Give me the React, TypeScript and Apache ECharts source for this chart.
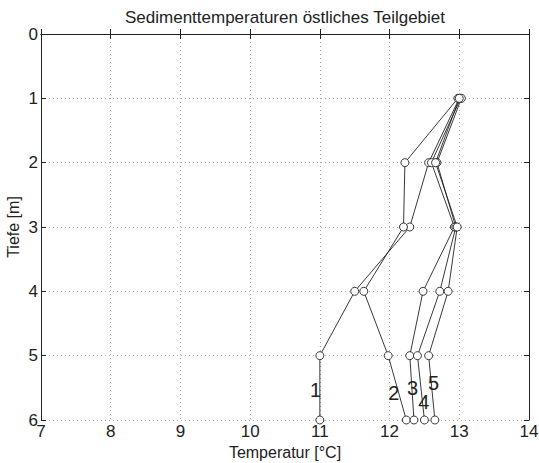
import React, { useEffect, useRef } from "react";
import * as echarts from "echarts";

const depths = [1, 2, 3, 4, 5, 6];
const line1 = [13.0, 12.56, 12.29, 11.5, 11.0, 11.0];
const line2 = [12.98, 12.22, 12.2, 11.63, 11.98, 12.24];
const line3 = [13.02, 12.6, 12.93, 12.48, 12.29, 12.35];
const line4 = [13.03, 12.68, 12.95, 12.72, 12.4, 12.5];
const line5 = [13.0, 12.66, 12.97, 12.84, 12.56, 12.65];
const seriesNames = ["1", "2", "3", "4", "5"];
const labelX = [10.94, 12.06, 12.33, 12.49, 12.63];
const labelDepth = [5.54, 5.58, 5.5, 5.72, 5.43];
const xTicks = [7, 8, 9, 10, 11, 12, 13, 14];
const yTicks = [0, 1, 2, 3, 4, 5, 6];

const FONT = "Liberation Sans";
const INK = "#222";

export default function App() {
  const ref = useRef<HTMLDivElement>(null);
  useEffect(() => {
    if (!ref.current) return;
    const chart = echarts.init(ref.current, null, { renderer: "svg" });
    const all = [line1, line2, line3, line4, line5];
    const series: any[] = all.map((vals, i) => ({
      type: "line",
      name: seriesNames[i],
      data: vals.map((v, j) => [v, depths[j]]),
      symbol: "circle",
      symbolSize: 8,
      showSymbol: true,
      itemStyle: { color: "#ffffff", borderColor: INK, borderWidth: 0.9 },
      lineStyle: { color: INK, width: 0.9 },
      z: 3,
      markPoint: {
        symbol: "circle",
        symbolSize: 0,
        data: [{ coord: [labelX[i], labelDepth[i]], value: seriesNames[i] }],
        label: {
          show: true,
          position: "inside",
          formatter: seriesNames[i],
          fontFamily: FONT,
          fontSize: 20,
          color: INK,
        },
      },
    }));
    chart.setOption({
      animation: false,
      backgroundColor: "#ffffff",
      title: {
        text: "Sedimenttemperaturen östliches Teilgebiet",
        left: 280,
        textAlign: "center",
        top: 4,
        textStyle: { fontFamily: FONT, fontSize: 17, fontWeight: "normal", color: INK },
      },
      grid: {
        left: 41,
        right: 10,
        top: 34,
        bottom: 43,
        containLabel: false,
        outerBoundsMode: "none",
      },
      xAxis: [
        {
          type: "value",
          min: 7,
          max: 14,
          interval: 1,
          position: "bottom",
          name: "Temperatur [°C]",
          nameLocation: "middle",
          nameGap: 22,
          nameTextStyle: { fontFamily: FONT, fontSize: 16, color: INK },
          axisLine: { show: true, lineStyle: { color: INK, width: 1 } },
          axisTick: { show: true, inside: true, length: 5, lineStyle: { color: INK } },
          axisLabel: {
            fontFamily: FONT,
            fontSize: 17,
            color: INK,
            margin: 3,
            formatter: (v: number) => (xTicks.includes(v) ? String(v) : ""),
          },
          splitLine: { show: true, lineStyle: { color: "#aaaaaa", type: [1, 3], width: 1 } },
        },
        {
          type: "value",
          min: 7,
          max: 14,
          interval: 1,
          position: "top",
          axisLine: { show: true, lineStyle: { color: INK, width: 1 } },
          axisTick: { show: true, inside: true, length: 5, lineStyle: { color: INK } },
          axisLabel: { show: false },
          splitLine: { show: false },
        },
      ],
      yAxis: [
        {
          type: "value",
          min: 0,
          max: 6,
          interval: 1,
          inverse: true,
          position: "left",
          name: "Tiefe [m]",
          nameLocation: "middle",
          nameGap: 20,
          nameMoveOverlap: false,
          nameRotate: 90,
          nameTextStyle: { fontFamily: FONT, fontSize: 16, color: INK },
          axisLine: { show: true, lineStyle: { color: INK, width: 1 } },
          axisTick: { show: true, inside: true, length: 5, lineStyle: { color: INK } },
          axisLabel: {
            fontFamily: FONT,
            fontSize: 17,
            color: INK,
            margin: 3,
            formatter: (v: number) => (yTicks.includes(v) ? String(v) : ""),
          },
          splitLine: { show: true, lineStyle: { color: "#aaaaaa", type: [1, 3], width: 1 } },
        },
        {
          type: "value",
          min: 0,
          max: 6,
          interval: 1,
          inverse: true,
          position: "right",
          axisLine: { show: true, lineStyle: { color: INK, width: 1 } },
          axisTick: { show: true, inside: true, length: 5, lineStyle: { color: INK } },
          axisLabel: { show: false },
          splitLine: { show: false },
        },
      ],
      series,
    });
    return () => chart.dispose();
  }, []);
  return (
    <div
      ref={ref}
      style={{ position: "fixed", left: 0, top: 0, width: 539, height: 463 }}
    />
  );
}
